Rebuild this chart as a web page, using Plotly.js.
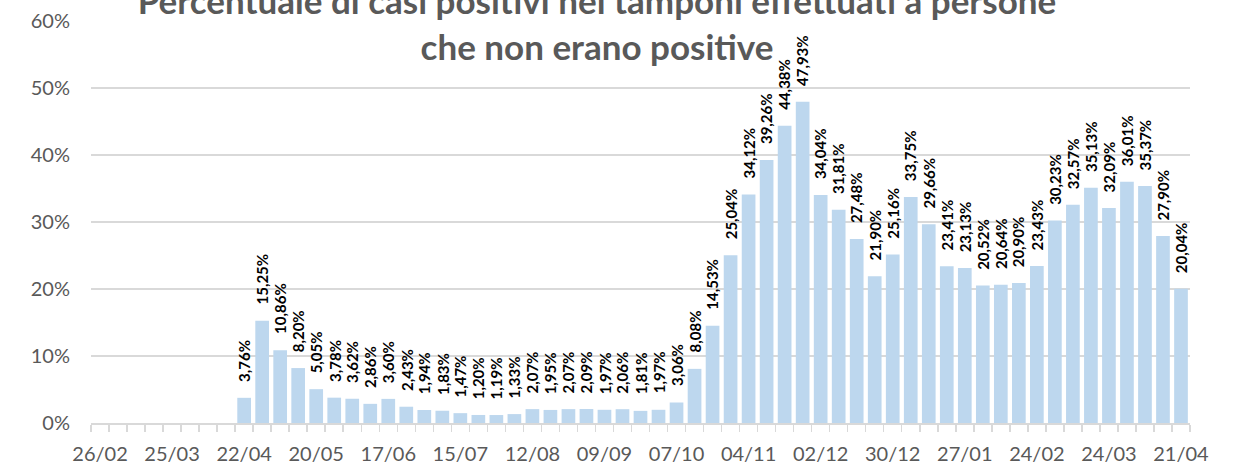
<!DOCTYPE html>
<html>
<head>
<meta charset="utf-8">
<script src="https://cdn.plot.ly/plotly-3.0.1.min.js"></script>
<style>
  html, body { margin: 0; padding: 0; background: #ffffff; }
  #chart { width: 1236px; height: 470px; }
</style>
</head>
<body>
<div id="chart"></div>
<script>
// Weekly categories (26/02/2020 -> 21/04/2021)
const weeks = [
  "26/02","04/03","11/03","18/03","25/03","01/04","08/04","15/04",
  "22/04","29/04","06/05","13/05","20/05","27/05","03/06","10/06",
  "17/06","24/06","01/07","08/07","15/07","22/07","29/07","05/08",
  "12/08","19/08","26/08","02/09","09/09","16/09","23/09","30/09",
  "07/10","14/10","21/10","28/10","04/11","11/11","18/11","25/11",
  "02/12","09/12","16/12","23/12","30/12","06/01","13/01","20/01",
  "27/01","03/02","10/02","17/02","24/02","03/03","10/03","17/03",
  "24/03","31/03","07/04","14/04","21/04"
];

// Percentage of positive cases among tests on people not previously positive
const positivity = [
  null, null, null, null, null, null, null, null,
  3.76, 15.25, 10.86, 8.20, 5.05, 3.78, 3.62, 2.86,
  3.60, 2.43, 1.94, 1.83, 1.47, 1.20, 1.19, 1.33,
  2.07, 1.95, 2.07, 2.09, 1.97, 2.06, 1.81, 1.97,
  3.06, 8.08, 14.53, 25.04, 34.12, 39.26, 44.38, 47.93,
  34.04, 31.81, 27.48, 21.90, 25.16, 33.75, 29.66, 23.41,
  23.13, 20.52, 20.64, 20.90, 23.43, 30.23, 32.57, 35.13,
  32.09, 36.01, 35.37, 27.90, 20.04
];

// Tick labels every 4 weeks
const tickEvery = 4;

const xIdx = weeks.map((w, i) => i);
const tickVals = xIdx.filter(i => i % tickEvery === 0);
const tickText = tickVals.map(i => weeks[i]);

const fmt = v => v.toFixed(2).replace('.', ',') + '%';

const annotations = [];
positivity.forEach((v, i) => {
  if (v === null) return;
  annotations.push({
    x: i, y: v, xref: 'x', yref: 'y',
    text: fmt(v),
    showarrow: false,
    textangle: -90,
    xanchor: 'center', yanchor: 'bottom',
    yshift: 14,
    font: { family: 'Lato, sans-serif', size: 15, color: '#000000', weight: 'bold' }
  });
});

const trace = {
  type: 'bar',
  x: xIdx,
  y: positivity,
  marker: { color: '#BDD7EE', line: { width: 0 } },
  hoverinfo: 'skip'
};

const layout = {
  width: 1236, height: 470,
  margin: { l: 91, r: 46, t: 21, b: 47 },
  paper_bgcolor: '#ffffff', plot_bgcolor: '#ffffff',
  showlegend: false,
  bargap: 0.24,
  title: {
    text: 'Percentuale di casi positivi nei tamponi effettuati a persone<br>che non erano positive',
    font: { family: 'Lato, sans-serif', size: 35, color: '#595959', weight: 'bold' },
    x: 597 / 1236, xref: 'container', xanchor: 'center',
    y: 0.97, yref: 'container', yanchor: 'middle'
  },
  xaxis: {
    type: 'linear',
    range: [-0.5, weeks.length - 0.5],
    tickmode: 'array', tickvals: tickVals, ticktext: tickText,
    ticks: '',
    ticklabelstandoff: 12,
    tickfont: { family: 'Lato, sans-serif', size: 20, color: '#595959' },
    showline: true, linecolor: '#D9D9D9', linewidth: 1.5,
    showgrid: false, zeroline: false,
    minor: { tickmode: 'linear', tick0: -0.5, dtick: 1, ticks: 'outside', ticklen: 7, tickcolor: '#D9D9D9', tickwidth: 1.5, showgrid: false }
  },
  yaxis: {
    range: [0, 60],
    tickmode: 'linear', tick0: 0, dtick: 10,
    ticksuffix: '%',
    ticks: '',
    ticklabelstandoff: 20,
    tickfont: { family: 'Lato, sans-serif', size: 20, color: '#595959' },
    showgrid: true, gridcolor: '#D9D9D9', gridwidth: 1.5,
    zeroline: false, showline: false
  },
  annotations: annotations
};

Plotly.newPlot('chart', [trace], layout, { displayModeBar: false, staticPlot: true });
</script>
</body>
</html>
